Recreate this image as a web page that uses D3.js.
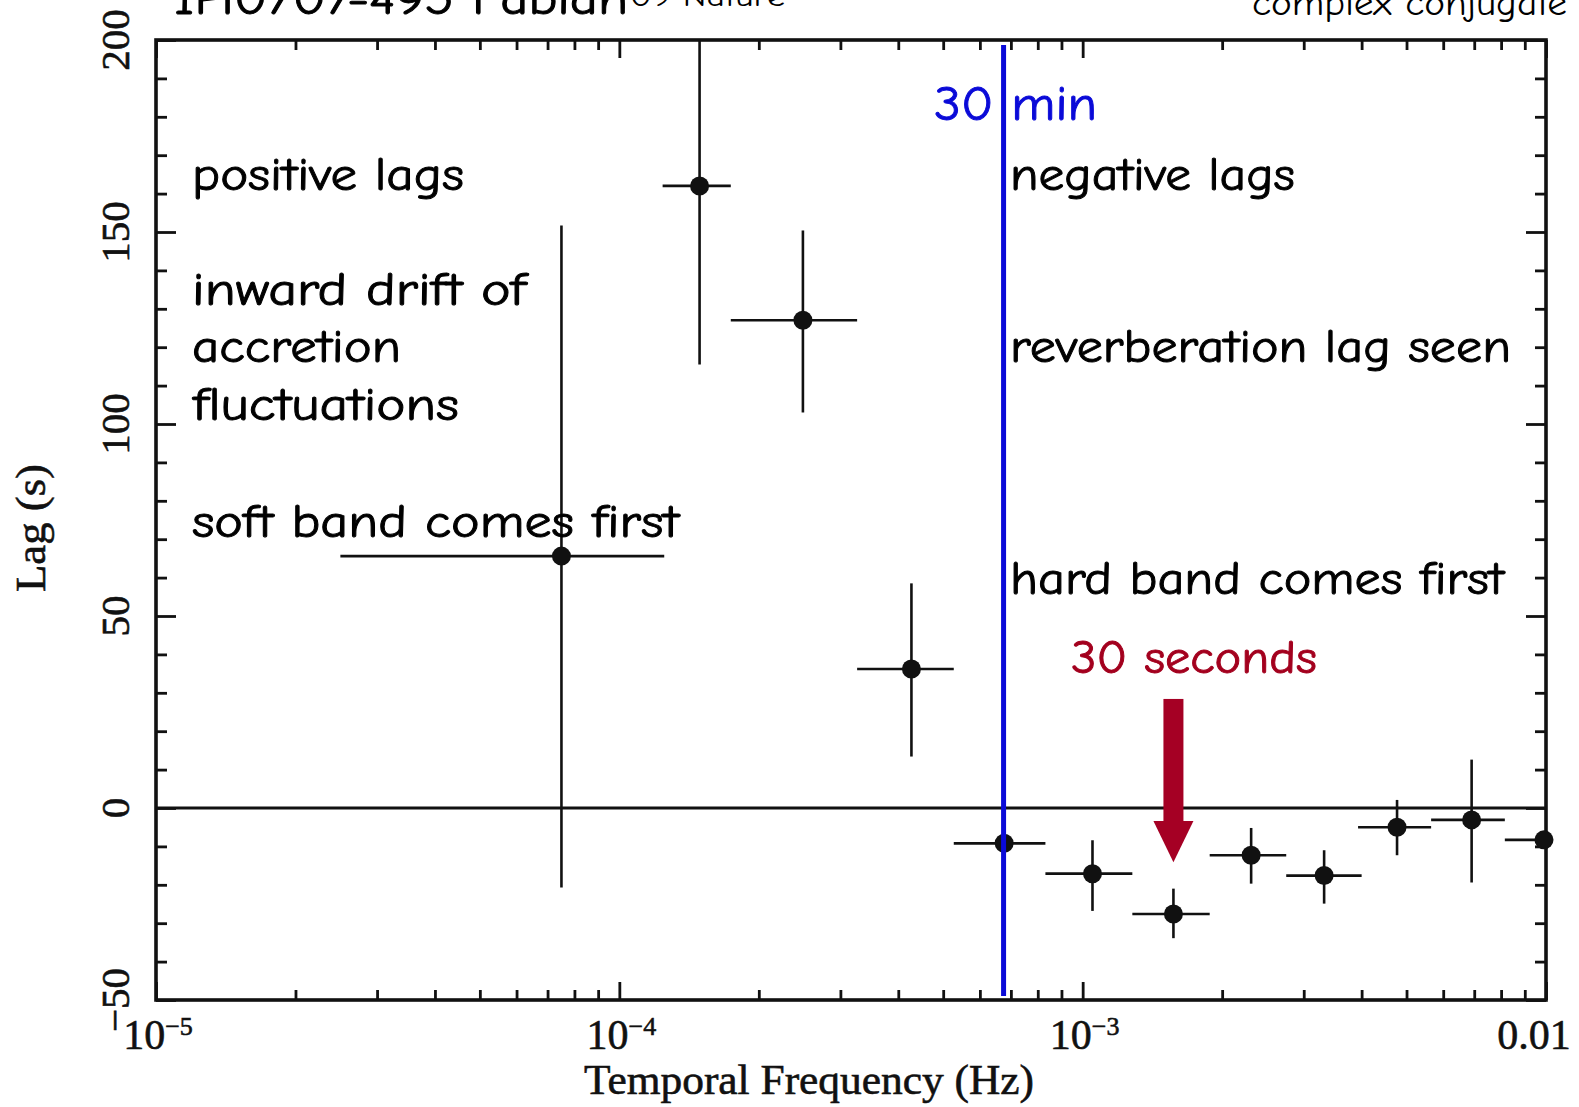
<!DOCTYPE html>
<html>
<head>
<meta charset="utf-8">
<script src="https://cdn.jsdelivr.net/npm/d3@7"></script>
<style>
  html, body { margin: 0; padding: 0; background: #fff; }
  svg { display: block; }
  .axis path.domain { display: none; }
  .axis line { stroke: #111; stroke-width: 2.8; }
  .serif { font-family: "Liberation Serif", "DejaVu Serif", serif; fill: #111; stroke: #111; stroke-width: 0.6px; }
  .comic { font-family: "Comic Sans MS", "Comic Neue", Lato, sans-serif; stroke-width: 0.9px; }
</style>
</head>
<body>
<div id="chart"></div>
<script>
// lag-frequency spectrum
const freq  = [7.5e-5, 1.49e-4, 2.49e-4, 4.27e-4, 6.77e-4, 1.05e-3, 1.57e-3, 2.31e-3, 3.32e-3, 4.77e-3, 6.91e-3, 9.9e-3];
const lag   = [65.6, 162, 127, 36.2, -9.2, -17.1, -27.6, -12.3, -17.6, -5, -3.1, -8.3];
const fLo   = [2.5e-5, 1.24e-4, 1.74e-4, 3.26e-4, 5.27e-4, 8.31e-4, 1.28e-3, 1.88e-3, 2.75e-3, 3.93e-3, 5.65e-3, 8.15e-3];
const fHi   = [1.25e-4, 1.74e-4, 3.26e-4, 5.27e-4, 8.31e-4, 1.28e-3, 1.88e-3, 2.75e-3, 4.0e-3, 5.65e-3, 8.15e-3, 1.05e-2];
const lagLo = [-20.7, 115.5, 103, 13.4, -11, -26.8, -33.9, -19.7, -24.9, -12.3, -19.4, -10];
const lagHi = [151.7, 215, 150.4, 58.5, -7.5, -8.4, -21, -5.2, -11, 2.1, 12.6, -6.5];

const xMajor = [1e-5, 1e-4, 1e-3, 1e-2];
const xLabels = [["10", "−5"], ["10", "−4"], ["10", "−3"], ["0.01", ""]];
const yMajor = [-50, 0, 50, 100, 150, 200];

const markerFreq = 6.75e-4;   // blue "30 min" line
const arrowFreq = 1.57e-3;    // red "30 seconds" arrow
const arrowLag = [28.4, -3.4, -14.1]; // tail, head base, tip

const width = 1579, height = 1107;
const margins = { top: 40, right: 33, bottom: 107, left: 156 };

const x = d3.scaleLog().domain([1e-5, 1e-2]).range([margins.left, width - margins.right]);
const y = d3.scaleLinear().domain([-50, 200]).range([height - margins.bottom, margins.top]);

const svg = d3.select('#chart').append('svg')
  .attr('width', width)
  .attr('height', height);

svg.append('rect').attr('width', width).attr('height', height).attr('fill', '#fff');

svg.append('clipPath').attr('id', 'plot')
  .append('rect')
  .attr('x', x.range()[0]).attr('y', y.range()[1])
  .attr('width', x.range()[1] - x.range()[0])
  .attr('height', y.range()[0] - y.range()[1]);

// minor ticks: 2..9 of each decade, every 10 s on the lag axis
const xMinor = [];
[1e-5, 1e-4, 1e-3].forEach(d => { for (let k = 2; k < 10; k++) xMinor.push(d * k); });
const yMinor = d3.range(-50, 201, 10).filter(v => v % 50 !== 0);

const x0 = x.range()[0], x1 = x.range()[1], y0 = y.range()[0], y1 = y.range()[1];

function tickAxis(axisFn, scale, vals, size, tr) {
  svg.append('g').attr('class', 'axis').attr('transform', tr)
    .call(axisFn(scale).tickValues(vals).tickSize(-size).tickFormat(''));
}
tickAxis(d3.axisBottom, x, xMajor, 18, `translate(0,${y0})`);
tickAxis(d3.axisBottom, x, xMinor, 10, `translate(0,${y0})`);
tickAxis(d3.axisTop, x, xMajor, 18, `translate(0,${y1})`);
tickAxis(d3.axisTop, x, xMinor, 10, `translate(0,${y1})`);
tickAxis(d3.axisLeft, y, yMajor, 20, `translate(${x0},0)`);
tickAxis(d3.axisLeft, y, yMinor, 11, `translate(${x0},0)`);
tickAxis(d3.axisRight, y, yMajor, 20, `translate(${x1},0)`);
tickAxis(d3.axisRight, y, yMinor, 11, `translate(${x1},0)`);

// frame
svg.append('rect')
  .attr('x', x0).attr('y', y1)
  .attr('width', x1 - x0).attr('height', y0 - y1)
  .attr('fill', 'none').attr('stroke', '#111').attr('stroke-width', 3.6);

// zero line
svg.append('line')
  .attr('x1', x0).attr('x2', x1)
  .attr('y1', y(0)).attr('y2', y(0))
  .attr('stroke', '#111').attr('stroke-width', 3);

// x tick labels
xMajor.forEach((v, i) => {
  const t = svg.append('text').attr('class', 'serif')
    .attr('x', x(v) + (i === 3 ? -12 : 2)).attr('y', 1049)
    .attr('text-anchor', 'middle')
    .style('font-size', '42px');
  t.append('tspan').text(xLabels[i][0]);
  if (xLabels[i][1]) {
    t.append('tspan').attr('dy', -14).style('font-size', '26px').text(xLabels[i][1]);
  }
});

// y tick labels (rotated)
yMajor.forEach(v => {
  svg.append('text').attr('class', 'serif')
    .attr('transform', `translate(129,${y(v)}) rotate(-90)`)
    .attr('text-anchor', 'middle')
    .style('font-size', '41px')
    .text(v === -50 ? '−50' : v);
});

// axis titles
svg.append('text').attr('class', 'serif')
  .attr('x', 809).attr('y', 1094)
  .attr('text-anchor', 'middle')
  .attr('textLength', 450).attr('lengthAdjust', 'spacingAndGlyphs')
  .style('font-size', '42px')
  .text('Temporal Frequency (Hz)');

svg.append('text').attr('class', 'serif')
  .attr('transform', 'translate(45,528) rotate(-90)')
  .attr('text-anchor', 'middle')
  .attr('textLength', 128).attr('lengthAdjust', 'spacingAndGlyphs')
  .style('font-size', '42px')
  .text('Lag (s)');

// data: error bars and points
const pts = freq.map((f, i) => ({ f, lag: lag[i], fLo: fLo[i], fHi: fHi[i], lo: lagLo[i], hi: lagHi[i] }));
const g = svg.append('g').attr('clip-path', 'url(#plot)');

g.selectAll('line.xerr').data(pts).enter().append('line')
  .attr('class', 'xerr')
  .attr('x1', d => x(d.fLo)).attr('x2', d => x(d.fHi))
  .attr('y1', d => y(d.lag)).attr('y2', d => y(d.lag))
  .attr('stroke', '#111').attr('stroke-width', 2.6);

g.selectAll('line.yerr').data(pts).enter().append('line')
  .attr('class', 'yerr')
  .attr('x1', d => x(d.f)).attr('x2', d => x(d.f))
  .attr('y1', d => y(d.lo)).attr('y2', d => y(d.hi))
  .attr('stroke', '#111').attr('stroke-width', 2.6);

svg.selectAll('circle.pt').data(pts).enter().append('circle')
  .attr('class', 'pt')
  .attr('cx', d => x(d.f)).attr('cy', d => y(d.lag))
  .attr('r', 9.5).attr('fill', '#111');

// blue 30 min line
svg.append('line')
  .attr('x1', x(markerFreq)).attr('x2', x(markerFreq))
  .attr('y1', y1 + 5).attr('y2', y0 - 4)
  .attr('stroke', '#0a0ad8').attr('stroke-width', 5);

// red arrow
const ax = x(arrowFreq);
svg.append('rect')
  .attr('x', ax - 10).attr('y', y(arrowLag[0]))
  .attr('width', 20).attr('height', y(arrowLag[1]) - y(arrowLag[0]) + 1)
  .attr('fill', '#a50024');
svg.append('path')
  .attr('d', `M${ax - 20},${y(arrowLag[1])} L${ax + 20},${y(arrowLag[1])} L${ax},${y(arrowLag[2])} Z`)
  .attr('fill', '#a50024');

// annotations
const notes = [
  { t: 'positive lags', x: 192, y: 190, w: 272 },
  { t: 'inward drift of', x: 192, y: 305, w: 334 },
  { t: 'accretion', x: 192, y: 362, w: 209 },
  { t: 'fluctuations', x: 193, y: 420, w: 266 },
  { t: 'soft band comes first', x: 192, y: 537, w: 487 },
  { t: 'negative lags', x: 1010, y: 190, w: 285 },
  { t: 'reverberation lag seen', x: 1010, y: 362, w: 501 },
  { t: 'hard band comes first', x: 1010, y: 594, w: 494 },
];
notes.forEach(n => {
  svg.append('text').attr('class', 'comic')
    .attr('x', n.x).attr('y', n.y)
    .attr('textLength', n.w).attr('lengthAdjust', 'spacingAndGlyphs')
    .style('font-size', '46px').attr('fill', '#000').attr('stroke', '#000')
    .text(n.t);
});

svg.append('text').attr('class', 'comic')
  .attr('x', 934).attr('y', 120)
  .attr('textLength', 163).attr('lengthAdjust', 'spacingAndGlyphs')
  .style('font-size', '48px').attr('fill', '#0a0ad8').attr('stroke', '#0a0ad8')
  .text('30 min');

svg.append('text').attr('class', 'comic')
  .attr('x', 1071).attr('y', 673)
  .attr('textLength', 246).attr('lengthAdjust', 'spacingAndGlyphs')
  .style('font-size', '46px').attr('fill', '#a3001e').attr('stroke', '#a3001e')
  .text('30 seconds');

// title strip, cut off at the top as in the source
svg.append('text').attr('class', 'comic')
  .attr('x', 173).attr('y', 14)
  .attr('textLength', 455).attr('lengthAdjust', 'spacingAndGlyphs')
  .style('font-size', '46px').attr('fill', '#000').attr('stroke', '#000')
  .text('1H0707-495 Fabian');
svg.append('text').attr('class', 'comic')
  .attr('x', 630).attr('y', 6)
  .attr('textLength', 155).attr('lengthAdjust', 'spacingAndGlyphs')
  .style('font-size', '28px').attr('fill', '#000')
  .text('09 Nature');
svg.append('text').attr('class', 'comic')
  .attr('x', 1252).attr('y', 15)
  .attr('textLength', 315).attr('lengthAdjust', 'spacingAndGlyphs')
  .style('font-size', '36px').attr('fill', '#000')
  .text('complex conjugate');
</script>
</body>
</html>
